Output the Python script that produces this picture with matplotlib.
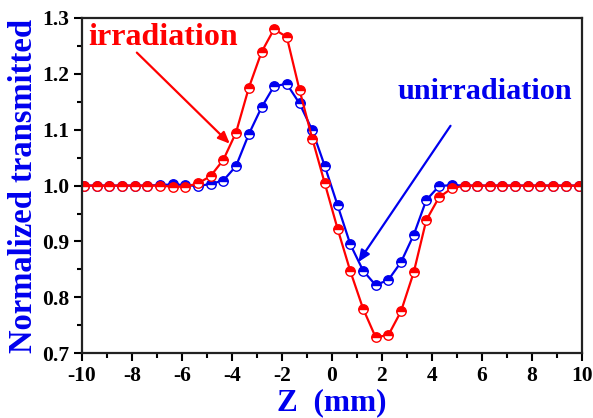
import matplotlib
matplotlib.use("Agg")
import matplotlib.pyplot as plt
from matplotlib.ticker import MultipleLocator

# Z-scan positions (mm)
z_mm = [-9.92, -9.41, -8.90, -8.40, -7.89, -7.38, -6.87, -6.37, -5.86, -5.35,
        -4.85, -4.34, -3.83, -3.32, -2.81, -2.31, -1.80, -1.29, -0.78, -0.28,
        0.23, 0.74, 1.25, 1.75, 2.26, 2.77, 3.28, 3.78, 4.29, 4.80,
        5.31, 5.81, 6.32, 6.83, 7.34, 7.84, 8.35, 8.86, 9.37, 9.88]

# Normalized transmittance, irradiated sample
t_irradiation = [1.000, 1.000, 1.000, 1.000, 1.000, 1.000, 1.000, 0.998, 0.998, 1.004,
                 1.017, 1.046, 1.095, 1.175, 1.239, 1.280, 1.266, 1.171, 1.084, 1.004,
                 0.923, 0.847, 0.780, 0.729, 0.732, 0.775, 0.845, 0.938, 0.979, 0.995,
                 1.000, 1.000, 1.000, 1.000, 1.000, 1.000, 1.000, 1.000, 1.000, 1.000]

# Normalized transmittance, unirradiated sample
t_unirradiation = [1.000, 1.000, 1.000, 1.000, 1.000, 1.000, 1.001, 1.002, 1.001, 0.999,
                   1.003, 1.009, 1.035, 1.092, 1.140, 1.178, 1.182, 1.147, 1.099, 1.035,
                   0.965, 0.895, 0.848, 0.822, 0.831, 0.863, 0.912, 0.974, 0.999, 1.001,
                   1.000, 1.000, 1.000, 1.000, 1.000, 1.000, 1.000, 1.000, 1.000, 1.000]

x_ticks = [-10, -8, -6, -4, -2, 0, 2, 4, 6, 8, 10]
y_ticks = [0.7, 0.8, 0.9, 1.0, 1.1, 1.2, 1.3]

serif = ["Liberation Serif", "DejaVu Serif"]
plt.rcParams["font.family"] = serif

fig = plt.figure(figsize=(5.93, 4.18), dpi=100)
ax = fig.add_axes([0.138, 0.155, 0.843, 0.802])

mk = dict(marker="o", markersize=6.8, fillstyle="top",
          markerfacecoloralt="white", markeredgewidth=1.0, linewidth=1.6)
ax.plot(z_mm, t_unirradiation, color="#0000ee", markeredgecolor="#0000ee", **mk)
ax.plot(z_mm, t_irradiation, color="#ff0000", markeredgecolor="#ff0000", **mk)

ax.set_xlim(-10, 10)
ax.set_ylim(0.7, 1.3)
ax.set_xticks(x_ticks)
ax.set_yticks(y_ticks)
ax.set_xticklabels([f"{v:d}" for v in x_ticks])
ax.set_yticklabels([f"{v:.1f}" for v in y_ticks])
ax.xaxis.set_minor_locator(MultipleLocator(1))
ax.yaxis.set_minor_locator(MultipleLocator(0.05))

ax.tick_params(which="both", direction="out", top=False, right=False,
               width=1.5, colors="black")
ax.tick_params(which="major", length=6, pad=3)
ax.tick_params(which="minor", length=3.5)
for lab in ax.get_xticklabels() + ax.get_yticklabels():
    lab.set_fontweight("bold")
    lab.set_fontsize(15.5)
for sp in ax.spines.values():
    sp.set_linewidth(1.6)
    sp.set_color("#222222")

ax.set_xlabel("Z  (mm)", color="#0000ee", fontsize=22.5, fontweight="bold", labelpad=2)
ax.set_ylabel("Normalized transmitted", color="#0000ee", fontsize=23.5,
              fontweight="bold", labelpad=2)

ax.text(-9.76, 1.252, "irradiation", color="#ff0000", fontsize=23,
        fontweight="bold", ha="left", va="baseline")
ax.text(2.64, 1.155, "unirradiation", color="#0000ee", fontsize=21.8,
        fontweight="bold", ha="left", va="baseline")

ax.annotate("", xy=(-4.08, 1.075), xytext=(-7.8, 1.238),
            arrowprops=dict(arrowstyle="-|>,head_length=0.7,head_width=0.3",
                            color="#ff0000", lw=1.6, shrinkA=0, shrinkB=0))
ax.annotate("", xy=(1.06, 0.863), xytext=(4.75, 1.107),
            arrowprops=dict(arrowstyle="-|>,head_length=0.7,head_width=0.3",
                            color="#0000ee", lw=1.6, shrinkA=0, shrinkB=0))

fig.savefig("out.png", dpi=100)
